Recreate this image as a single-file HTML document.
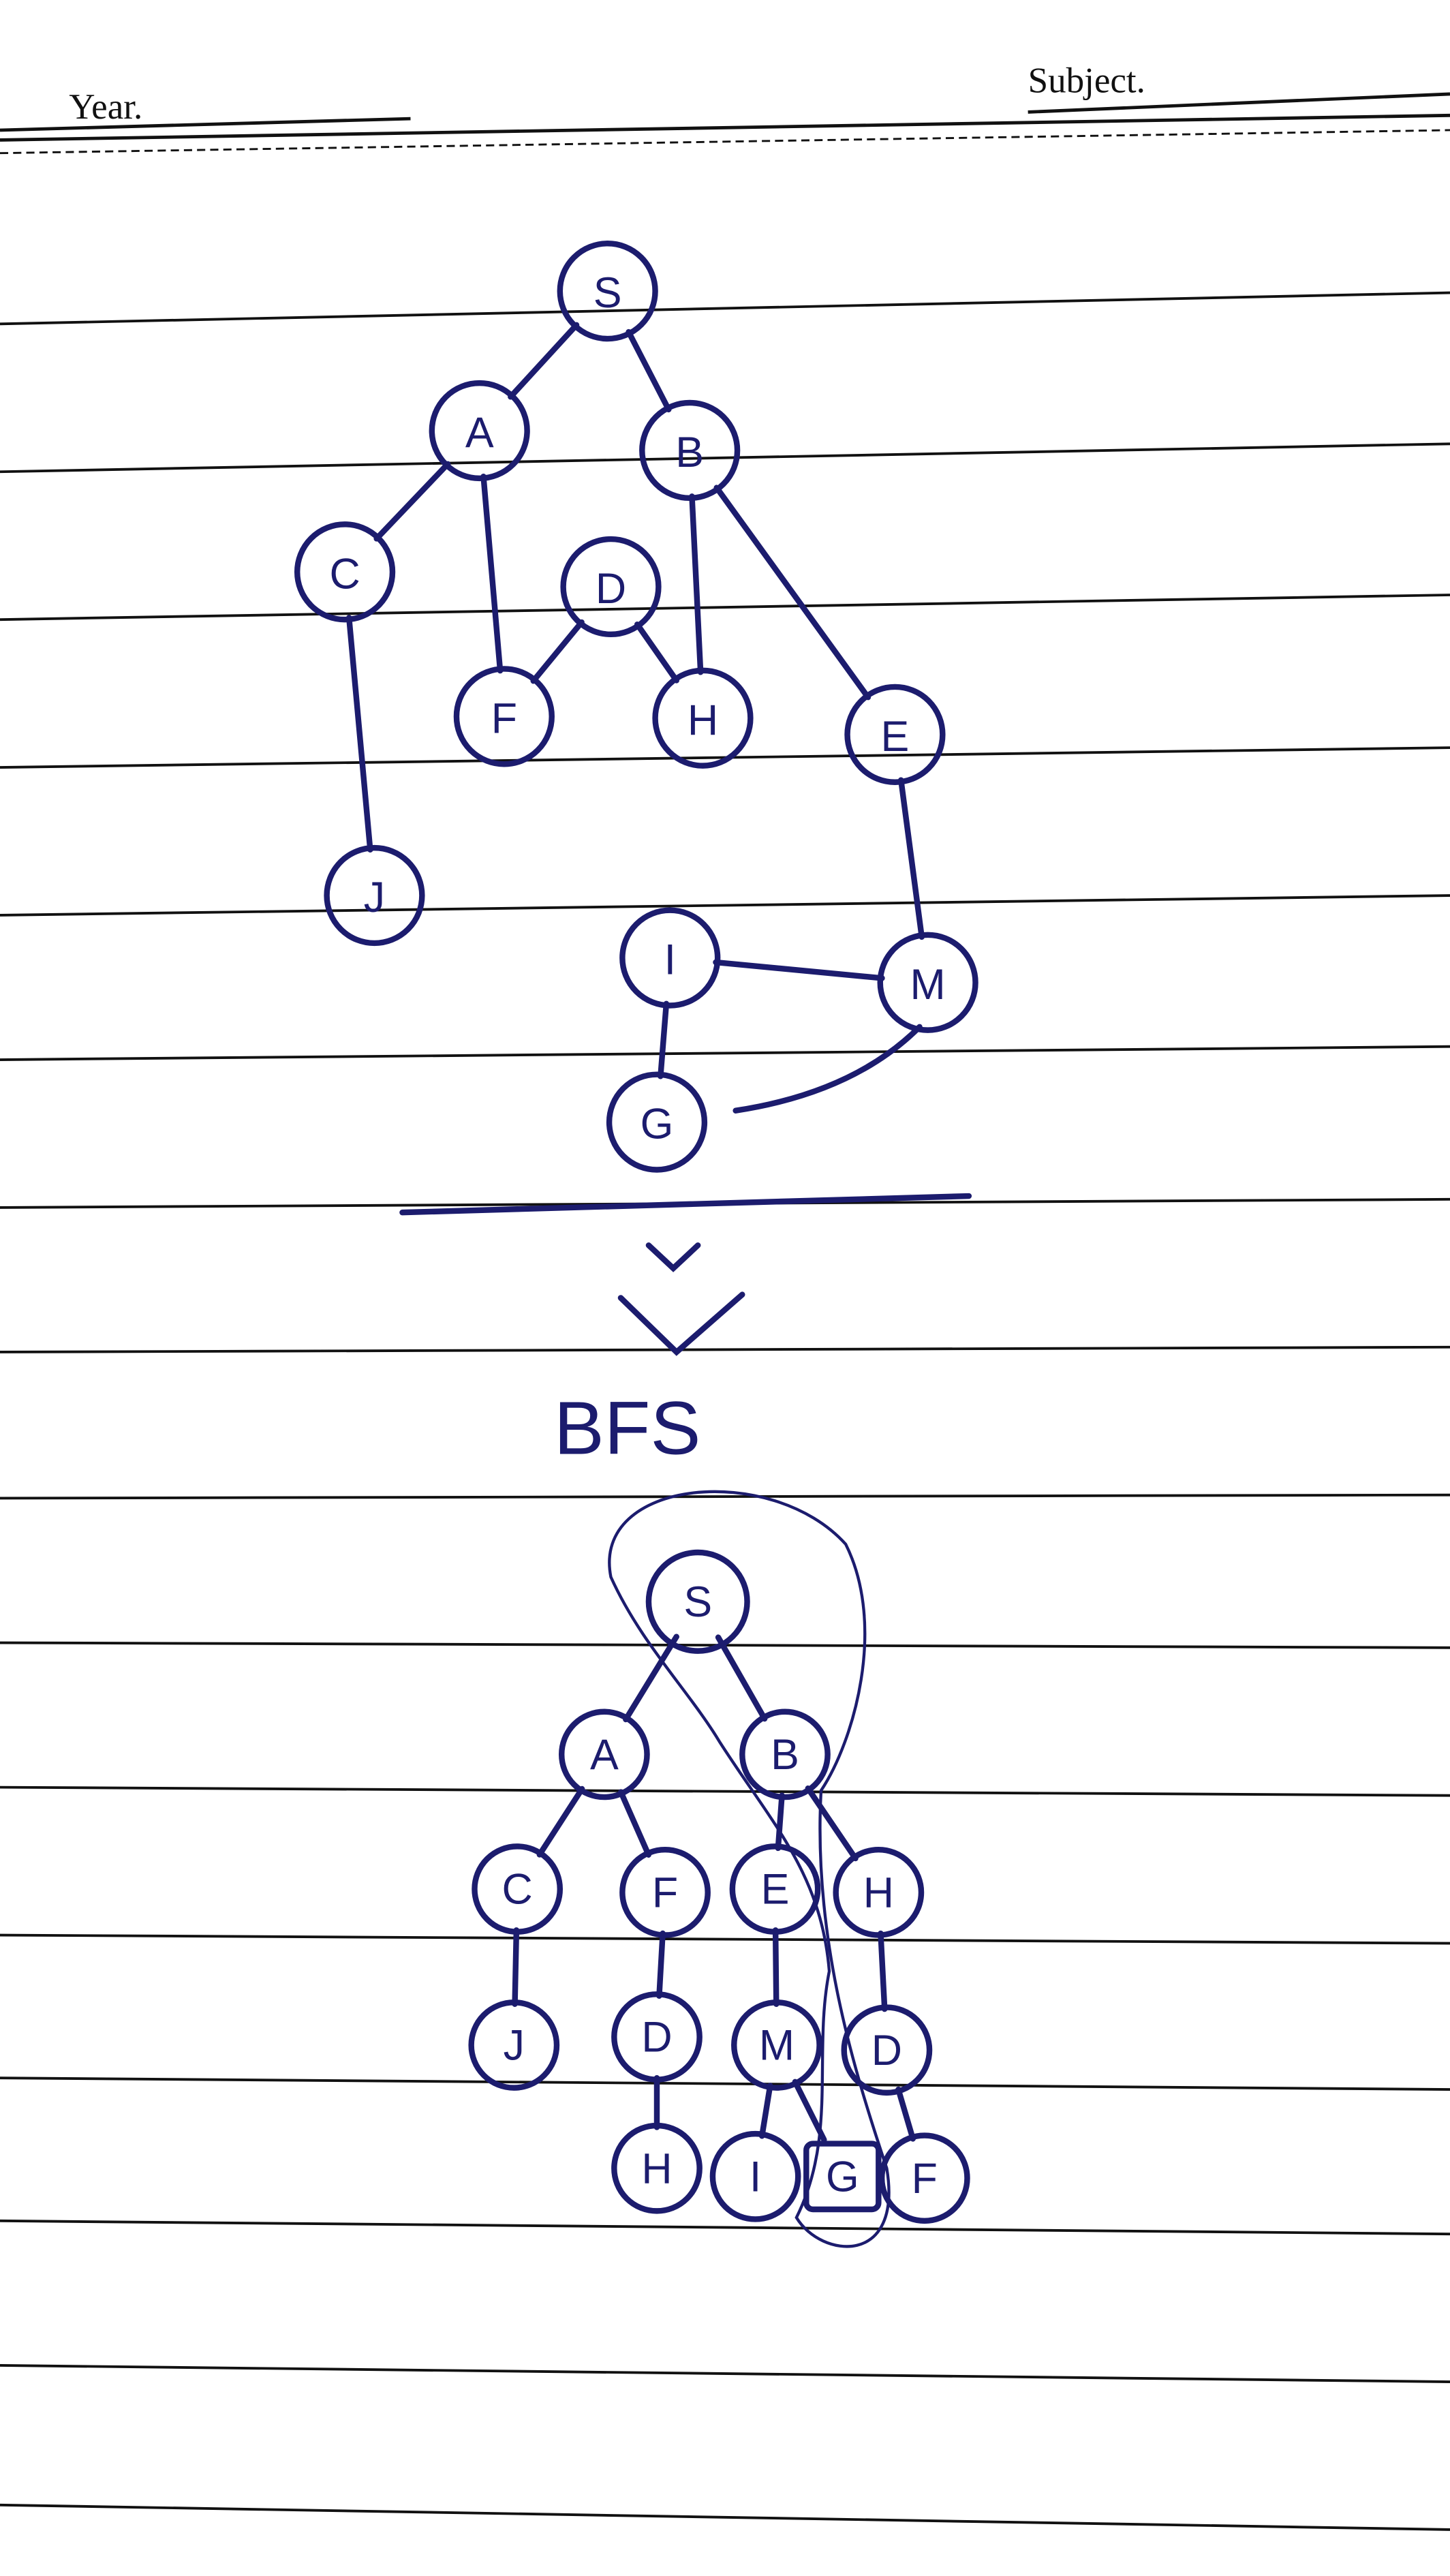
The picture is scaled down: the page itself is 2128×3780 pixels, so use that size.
<!DOCTYPE html>
<html><head><meta charset="utf-8"><style>
html,body{margin:0;padding:0;background:#fff;}
svg{display:block;}
</style></head><body>
<svg width="2128" height="3780" viewBox="0 0 883 1568" xmlns="http://www.w3.org/2000/svg">
<rect width="883" height="1568" fill="#fff"/>
<g font-family="Liberation Serif, serif" font-size="22" fill="#111">
<text x="42" y="72">Year.</text>
<text x="626" y="56">Subject.</text>
</g>
<g stroke="#111" fill="none">
<line x1="0" y1="79" x2="250" y2="72" stroke-width="2"/>
<line x1="626" y1="68" x2="883" y2="57" stroke-width="2"/>
<line x1="0" y1="85" x2="883" y2="70" stroke-width="2"/>
<line x1="0" y1="93" x2="883" y2="79" stroke-width="1.2" stroke-dasharray="5,3"/>
</g>
<g id="rules" stroke="#111" stroke-width="1.6"></g>
<g id="graph" stroke="#1c1c6e" stroke-width="3.5" fill="none" stroke-linecap="round"></g>
<g id="labels" fill="#1c1c6e" font-family="Liberation Sans, sans-serif" font-size="26" text-anchor="middle"></g>
</svg>
<script>
const NS='http://www.w3.org/2000/svg';
const ruleLeft=[197,287,377,467,557,645,735,823,912,1000,1088,1178,1265,1352,1440,1525];
const ruleRight=[178,270,362,455,545,637,730,820,910,1003,1093,1183,1272,1360,1450,1540];
const rules=document.getElementById('rules');
ruleLeft.forEach((y,i)=>{const l=document.createElementNS(NS,'line');
l.setAttribute('x1',0);l.setAttribute('y1',y);l.setAttribute('x2',883);l.setAttribute('y2',ruleRight[i]);


rules.appendChild(l);});
const g=document.getElementById('graph'),lab=document.getElementById('labels');
function el(t,a,name){const e=document.createElementNS(NS,t);for(const k in a)e.setAttribute(k,a[k]);


g.appendChild(e);return e;}
const nodes1={S:[370,177],A:[292,262],B:[420,274],C:[210,348],D:[372,357],F:[307,436],H:[428,437],E:[545,447],J:[228,545],I:[408,583],M:[565,598],G:[400,683]};
const edges1=[['S','A'],['S','B'],['A','C'],['A','F'],['B','H'],['B','E'],['D','F'],['D','H'],['C','J'],['E','M'],['I','M'],['I','G']];
const nodes2=[['S',425,975],['A',368,1068],['B',478,1068],['C',315,1150],['F',405,1152],['E',472,1150],['H',535,1152],['J',313,1245],['D',400,1240],['M',473,1245],['D',540,1248],['H',400,1320],['I',460,1325],['G',513,1325],['F',563,1326]];
const edges2=[[0,1],[0,2],[1,3],[1,4],[2,5],[2,6],[3,7],[4,8],[5,9],[6,10],[8,11],[9,12],[9,13],[10,14]];
function edge(a,b,r1,r2,name){const dx=b[0]-a[0],dy=b[1]-a[1],d=Math.hypot(dx,dy);
el('line',{x1:a[0]+dx/d*r1,y1:a[1]+dy/d*r1,x2:b[0]-dx/d*r2,y2:b[1]-dy/d*r2},name);}
edges1.forEach(([a,b])=>edge(nodes1[a],nodes1[b],28,28,'edge-'+a+'-'+b));
el('path',{d:'M448,676 Q520,665 560,625'},'edge-G-M');
for(const k in nodes1){const [x,y]=nodes1[k];el('circle',{cx:x,cy:y,r:29},'node-'+k);
const t=document.createElementNS(NS,'text');t.setAttribute('x',x);t.setAttribute('y',y+10);t.textContent=k;


lab.appendChild(t);}
el('path',{d:'M245,738 L590,728'},'divider-line');
el('path',{d:'M395,758 L410,772 L425,758'},'arrow-small');
el('path',{d:'M378,790 L412,823 L452,788'},'arrow-large');
const bfs=document.createElementNS(NS,'text');bfs.setAttribute('x',382);bfs.setAttribute('y',885);bfs.setAttribute('font-size','46');bfs.textContent='BFS';


lab.appendChild(bfs);
edges2.forEach(([a,b])=>edge(nodes2[a].slice(1),nodes2[b].slice(1),25,25,'tree-edge'));
nodes2.forEach(([k,x,y])=>{if(k==='G'&&x===513){el('rect',{x:x-22,y:y-20,width:44,height:40,rx:4},'node-goal-G');}
else {el('circle',{cx:x,cy:y,r:k==='S'?30:26},'tree-node-'+k);}
const t=document.createElementNS(NS,'text');t.setAttribute('x',x);t.setAttribute('y',y+9);t.textContent=k;


lab.appendChild(t);});
const lasso=el('path',{d:'M372,960 C360,900 470,890 515,940 C540,990 520,1060 500,1090 C495,1180 520,1260 540,1320 C550,1380 500,1375 485,1350 C510,1300 495,1250 505,1200 C500,1140 470,1110 438,1060 C420,1030 390,1000 372,960 Z'},'search-lasso');
lasso.setAttribute('stroke-width','1.8');
</script>
</body></html>
